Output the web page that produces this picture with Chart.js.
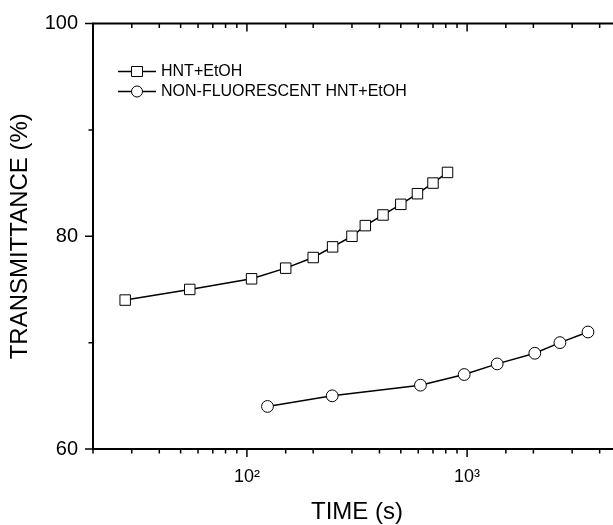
<!DOCTYPE html>
<html>
<head>
<meta charset="utf-8">
<script src="https://cdn.jsdelivr.net/npm/chart.js@4.4.1/dist/chart.umd.min.js"></script>
<style>
html, body { margin: 0; padding: 0; background: #fff; overflow: hidden; }
#wrap { width: 613px; height: 525px; overflow: hidden; }
canvas { display: block; }
</style>
</head>
<body>
<div id="wrap"><canvas id="chart" width="630" height="525"></canvas></div>
<script>
/* ======================================================================
DATA
====================================================================== */
const hntTime = [28, 55, 105, 150, 200, 245, 300, 345, 415, 500, 595, 700, 815];
const hntTrans = [74, 75, 76, 77, 78, 79, 80, 81, 82, 83, 84, 85, 86];
const nonFluoTime = [124, 244, 614, 970, 1370, 2030, 2640, 3540];
const nonFluoTrans = [64, 65, 66, 67, 68, 69, 70, 71];
const seriesLabels = ['HNT+EtOH', 'NON-FLUORESCENT HNT+EtOH'];
const xTickValues = [100, 1000];
const xTickText = ['10²', '10³'];
const yTickLabels = [60, 80, 100];

/* ======================================================================
Plugins
====================================================================== */
// frame with Origin-style ticks: out on bottom/left, in on top/right
const frameTicks = {
  id: 'frameTicks',
  afterDraw(chart) {
    const { ctx, chartArea: a, scales: { x, y } } = chart;
    ctx.save();
    ctx.strokeStyle = '#000';
    ctx.lineWidth = 2;
    ctx.strokeRect(a.left, a.top, a.right - a.left, a.bottom - a.top);
    ctx.lineWidth = 1.5;
    ctx.beginPath();
    x.ticks.forEach(t => {
      const px = x.getPixelForValue(t.value);
      const lg = Math.log10(t.value);
      const len = Math.abs(lg - Math.round(lg)) < 1e-6 ? 8 : 4.5;
      ctx.moveTo(px, a.bottom); ctx.lineTo(px, a.bottom + len);
      ctx.moveTo(px, a.top); ctx.lineTo(px, a.top + len);
    });
    y.ticks.forEach(t => {
      const py = y.getPixelForValue(t.value);
      const len = t.value % 20 === 0 ? 8 : 4.5;
      ctx.moveTo(a.left, py); ctx.lineTo(a.left - len, py);
      ctx.moveTo(a.right, py); ctx.lineTo(a.right - len, py);
    });
    ctx.stroke();
    ctx.restore();
  }
};

// legend: line - marker - line, then label
const legendBox = {
  id: 'legendBox',
  afterDraw(chart) {
    const ctx = chart.ctx;
    chart.data.datasets.forEach((ds, i) => {
      const yy = 71.5 + i * 20;
      ctx.save();
      ctx.strokeStyle = '#000';
      ctx.lineWidth = 1.5;
      ctx.beginPath();
      ctx.moveTo(118, yy);
      ctx.lineTo(156, yy);
      ctx.stroke();
      ctx.fillStyle = '#fff';
      ctx.lineWidth = 1;
      ctx.beginPath();
      if (ds.pointStyle === 'rect') {
        ctx.rect(131.5, yy - 5, 11, 10);
      } else {
        ctx.arc(137, yy, 5.5, 0, Math.PI * 2);
      }
      ctx.fill();
      ctx.stroke();
      ctx.fillStyle = '#000';
      ctx.font = '16px "Liberation Sans", Arial, sans-serif';
      ctx.textBaseline = 'middle';
      ctx.fillText(ds.label, 161, yy + 0.5);
      ctx.restore();
    });
  }
};

/* ======================================================================
Chart
====================================================================== */
Chart.defaults.font.family = '"Liberation Sans", Arial, sans-serif';
Chart.defaults.color = '#000';

const hntPoints = hntTime.map((t, i) => ({ x: t, y: hntTrans[i] }));
const nonFluoPoints = nonFluoTime.map((t, i) => ({ x: t, y: nonFluoTrans[i] }));

new Chart(document.getElementById('chart'), {
  type: 'line',
  data: {
    datasets: [{
      label: seriesLabels[0],
      data: hntPoints,
      borderColor: '#000',
      borderWidth: 1.5,
      pointStyle: 'rect',
      pointRadius: 7.4,
      pointBorderWidth: 1,
      pointBackgroundColor: '#fff',
      pointBorderColor: '#000',
      tension: 0
    }, {
      label: seriesLabels[1],
      data: nonFluoPoints,
      borderColor: '#000',
      borderWidth: 1.5,
      pointStyle: 'circle',
      pointRadius: 5.9,
      pointBorderWidth: 1,
      pointBackgroundColor: '#fff',
      pointBorderColor: '#000',
      tension: 0
    }]
  },
  options: {
    responsive: false,
    animation: false,
    // plot area runs past the window's right edge, like the cropped original
    layout: { autoPadding: false, padding: { top: 23.5, right: 9, left: 0, bottom: 0 } },
    plugins: {
      legend: { display: false },
      tooltip: { enabled: false }
    },
    scales: {
      x: {
        type: 'logarithmic',
        min: 20,
        max: 5000,
        grid: { display: false, drawTicks: false },
        border: { display: false },
        ticks: {
          autoSkip: false,
          maxRotation: 0,
          padding: 17,
          font: { size: 18 },
          callback: v => {
            const i = xTickValues.indexOf(Math.round(v));
            return i >= 0 ? xTickText[i] : '';
          }
        },
        title: {
          display: true,
          text: 'TIME (s)',
          font: { size: 24, lineHeight: 1 },
          padding: { top: 0, bottom: 1 }
        },
        afterFit: s => { s.height = 76; s.paddingLeft = 0; s.paddingRight = 0; }
      },
      y: {
        min: 60,
        max: 100,
        grid: { display: false, drawTicks: false },
        border: { display: false },
        ticks: {
          stepSize: 10,
          padding: 15,
          font: { size: 20 },
          callback: v => (yTickLabels.includes(v) ? v : '')
        },
        title: {
          display: true,
          text: 'TRANSMITTANCE (%)',
          font: { size: 24, lineHeight: 1 },
          padding: { top: 8, bottom: 0 }
        },
        afterFit: s => { s.width = 93; s.paddingTop = 0; s.paddingBottom = 0; }
      }
    }
  },
  plugins: [frameTicks, legendBox]
});
</script>
</body>
</html>
